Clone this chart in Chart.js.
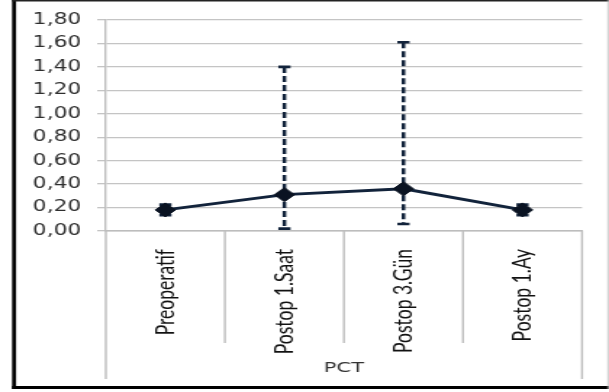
<!DOCTYPE html>
<html>
<head>
<meta charset="utf-8">
<script src="https://cdn.jsdelivr.net/npm/chart.js@4/dist/chart.umd.min.js"></script>
<style>
  html, body { margin: 0; padding: 0; background: #ffffff; overflow: hidden; }
  /* the chart is laid out on a narrower canvas and widened horizontally */
  #frame { position: absolute; left: 0; top: 0; width: 420px; height: 392px;
           transform: scaleX(1.45); transform-origin: 0 0; }
  canvas { display: block; }
</style>
</head>
<body>
<div id="frame"><canvas id="pct" width="420" height="392"></canvas></div>
<script>
// PCT mean values per time point, with error bar bounds
const categories = ['Preoperatif', 'Postop 1.Saat', 'Postop 3.Gün', 'Postop 1.Ay'];
const pctMean = [0.18, 0.31, 0.36, 0.18];
const pctLow  = [0.135, 0.02, 0.06, 0.135];
const pctHigh = [0.225, 1.40, 1.61, 0.225];
const yTickValues = [0, 0.2, 0.4, 0.6, 0.8, 1.0, 1.2, 1.4, 1.6, 1.8];
const axisTitle = 'PCT';

const NAVY = '#12233b';
const GRID = '#c4c4c4';

// dashed error bars with flat caps, drawn under the line
const errorBars = {
  id: 'errorBars',
  beforeDatasetsDraw(chart) {
    const { ctx, scales: { x, y } } = chart;
    ctx.save();
    ctx.strokeStyle = NAVY;
    for (let i = 0; i < categories.length; i++) {
      const px = x.getPixelForValue(i);
      const yLo = y.getPixelForValue(pctLow[i]);
      const yHi = y.getPixelForValue(pctHigh[i]);
      ctx.lineWidth = 2.5;
      ctx.setLineDash([6, 3]);
      ctx.beginPath();
      ctx.moveTo(px, yHi);
      ctx.lineTo(px, yLo);
      ctx.stroke();
      ctx.setLineDash([]);
      ctx.lineWidth = 2.6;
      ctx.beginPath();
      ctx.moveTo(px - 4.2, yHi); ctx.lineTo(px + 4.2, yHi);
      ctx.moveTo(px - 4.2, yLo); ctx.lineTo(px + 4.2, yLo);
      ctx.stroke();
    }
    ctx.restore();
  }
};

// category separators below the axis, the group box and the outer frame
const categoryFrame = {
  id: 'categoryFrame',
  afterDraw(chart) {
    const { ctx, chartArea, scales: { x } } = chart;
    ctx.save();
    ctx.strokeStyle = '#bdbdbd';
    ctx.lineWidth = 1.4;
    ctx.beginPath();
    for (let i = 0; i <= categories.length; i++) {
      const px = x.getPixelForValue(i - 0.5);
      const outer = (i === 0 || i === categories.length);
      ctx.moveTo(px, chartArea.bottom);
      ctx.lineTo(px, outer ? 379 : 343);
    }
    ctx.stroke();

    // outer frame
    ctx.strokeStyle = '#000000';
    ctx.lineWidth = 2.8;
    ctx.beginPath(); ctx.moveTo(9.7, 0); ctx.lineTo(9.7, 389); ctx.stroke();
    ctx.lineWidth = 3;
    ctx.beginPath(); ctx.moveTo(8.3, 387.5); ctx.lineTo(420, 387.5); ctx.stroke();
    ctx.strokeStyle = '#222222';
    ctx.lineWidth = 1.5;
    ctx.beginPath(); ctx.moveTo(8.3, 0.75); ctx.lineTo(420, 0.75); ctx.stroke();
    ctx.strokeStyle = '#bbbbbb';
    ctx.lineWidth = 0.8;
    ctx.beginPath(); ctx.moveTo(419.3, 0); ctx.lineTo(419.3, 389); ctx.stroke();
    ctx.restore();
  }
};

new Chart(document.getElementById('pct'), {
  type: 'line',
  data: {
    labels: categories,
    datasets: [{
      data: pctMean,
      borderColor: NAVY,
      borderWidth: 2.9,
      tension: 0,
      pointStyle: 'rectRot',
      pointRadius: 7,
      pointBorderWidth: 1,
      pointBackgroundColor: '#0a1322',
      pointBorderColor: '#0a1322'
    }]
  },
  options: {
    responsive: false,
    animation: false,
    devicePixelRatio: 1,
    layout: { padding: { top: 20, right: 18.6, bottom: 13, left: 0 } },
    plugins: { legend: { display: false }, tooltip: { enabled: false } },
    scales: {
      x: {
        offset: true,
        grid: { display: false },
        border: { display: true, color: '#bdbdbd', width: 1.4 },
        afterFit: s => { s.height = 148; },
        ticks: {
          autoSkip: false, minRotation: 90, maxRotation: 90, padding: 10,
          color: '#111111', font: { family: 'Lato', size: 17.5 }
        },
        title: {
          display: true, text: axisTitle, color: '#333333',
          font: { family: 'DejaVu Sans', size: 14.5 }, padding: { top: 0, bottom: 2 }
        }
      },
      y: {
        min: 0, max: 1.8,
        afterBuildTicks: s => { s.ticks = yTickValues.map(v => ({ value: v })); },
        afterFit: s => { s.width = 73; },
        grid: { color: GRID, lineWidth: 1.3, tickLength: 6, drawTicks: true },
        border: { display: true, color: '#bdbdbd', width: 1.4 },
        ticks: {
          padding: 11, color: '#2e2e2e',
          font: { family: 'DejaVu Sans', size: 15 },
          callback: v => Number(v).toFixed(2).replace('.', ',')
        }
      }
    }
  },
  plugins: [errorBars, categoryFrame]
});
</script>
</body>
</html>
